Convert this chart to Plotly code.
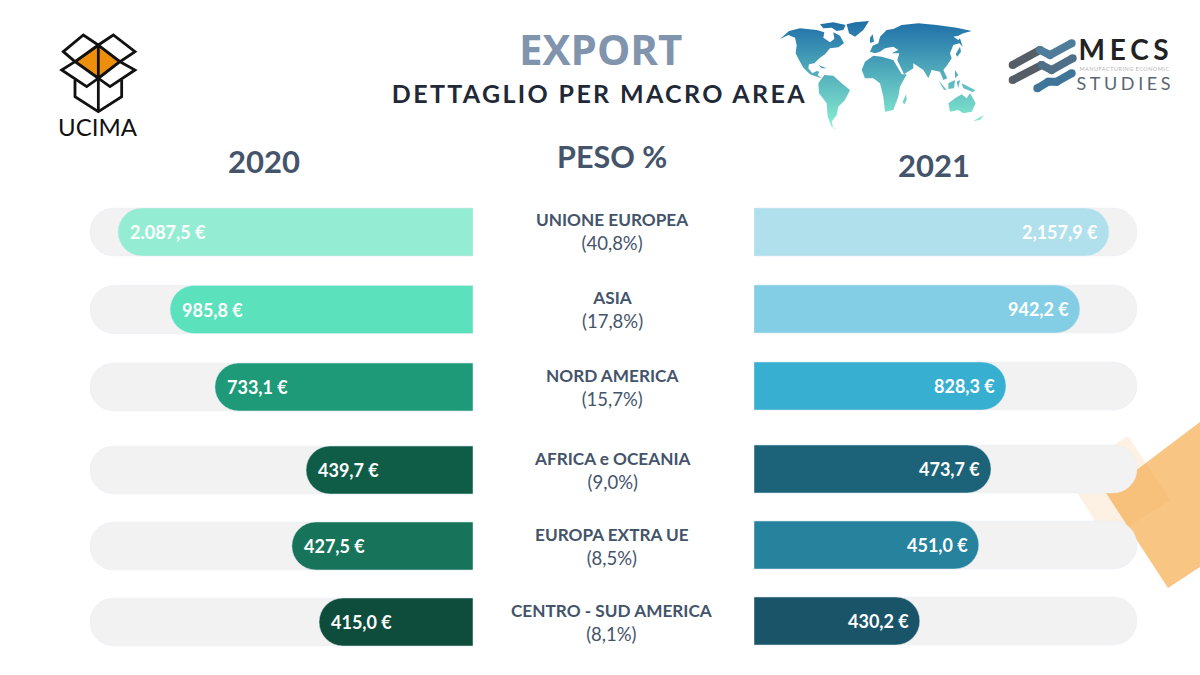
import plotly.graph_objects as go

rows_top = ["UNIONE EUROPEA", "ASIA", "NORD AMERICA"]
rows_bottom = ["AFRICA e OCEANIA", "EUROPA EXTRA UE", "CENTRO - SUD AMERICA"]

peso_top = ["(40,8%)", "(17,8%)", "(15,7%)"]
peso_bottom = ["(9,0%)", "(8,5%)", "(8,1%)"]

labels_2020_top = ["2.087,5 €", "985,8 €", "733,1 €"]
labels_2020_bottom = ["439,7 €", "427,5 €", "415,0 €"]
labels_2021_top = ["2,157,9 €", "942,2 €", "828,3 €"]
labels_2021_bottom = ["473,7 €", "451,0 €", "430,2 €"]

# bar lengths, % of the grey track (not proportional to the labels)
length_2020_top = [92.7, 79.1, 67.4]
length_2020_bottom = [43.6, 47.3, 40.2]
length_2021_top = [92.7, 85.1, 65.8]
length_2021_bottom = [61.9, 58.7, 43.3]
track = [100, 100, 100]

colors_2020_top = ["#94EDD3", "#5BE2BD", "#1F9A78"]
colors_2020_bottom = ["#0F5C47", "#17745A", "#0E4D3C"]
colors_2021_top = ["#B0E0EC", "#83CEE4", "#36AFD1"]
colors_2021_bottom = ["#1C6379", "#26829D", "#1A5468"]

W, H = 1200, 675
SLATE = "#44546A"
BAR_H = 48


def xdom(a, b):
    return [a / W, b / W]


def ydom(top, bottom):
    return [1 - bottom / H, 1 - top / H]


fig = go.Figure()

# page axes: one unit is one pixel, used for the logos and the decoration
fig.update_layout(
    xaxis=dict(domain=[0, 1], range=[0, W], visible=False, fixedrange=True),
    yaxis=dict(domain=[0, 1], range=[H, 0], visible=False, fixedrange=True),
)


# ---- world map, rough outline traced from two 3x crops
def zoomed(points, ox, oy):
    return [ox + p[0] / 3 for p in points], [oy + p[1] / 3 for p in points]


west = [
    [(15, 72), (42, 48), (75, 40), (125, 45), (148, 52), (145, 68), (165, 82), (178, 72), (175, 52), (195, 62),
     (207, 85), (190, 97), (165, 100), (150, 118), (135, 128), (118, 145), (102, 148), (100, 160), (112, 175),
     (125, 168), (133, 170), (128, 180), (140, 190), (125, 185), (105, 178), (85, 158), (72, 135), (62, 115),
     (65, 90), (60, 68), (40, 60)],
    [(215, 28), (240, 22), (282, 18), (265, 45), (240, 65), (222, 55)],
    [(135, 28), (175, 22), (212, 30), (205, 45), (185, 48), (170, 38), (145, 40)],
    [(130, 150), (155, 160), (140, 160)],
    [(130, 205), (148, 180), (175, 182), (200, 205), (225, 225), (210, 255), (190, 275), (185, 300), (170, 320),
     (175, 340), (185, 342), (170, 335), (158, 305), (155, 265), (132, 235)],
]
east = [
    [(30, 110), (38, 92), (55, 85), (60, 65), (80, 45), (100, 42), (125, 30), (175, 25), (230, 30), (290, 38),
     (335, 48), (310, 55), (295, 62), (280, 65), (295, 75), (300, 70), (308, 95), (298, 85), (280, 90), (270, 115),
     (275, 130), (262, 150), (250, 165), (262, 190), (250, 195), (240, 170), (215, 165), (205, 190), (190, 165),
     (160, 145), (160, 160), (132, 178), (112, 135), (118, 115), (95, 115), (115, 105), (100, 95), (75, 100),
     (60, 110), (45, 115)],
    [(5, 165), (15, 140), (40, 122), (65, 125), (100, 135), (125, 178), (140, 178), (120, 215), (115, 245),
     (100, 285), (75, 290), (70, 245), (60, 205), (40, 190), (15, 190)],
    [(128, 262), (138, 238), (140, 255), (133, 268)],
    [(235, 195), (260, 225), (252, 225)],
    [(265, 205), (285, 195), (282, 220), (265, 222)],
    [(290, 200), (300, 195), (295, 220)],
    [(305, 205), (345, 225), (340, 232), (310, 220)],
    [(285, 165), (295, 180), (285, 190)],
    [(287, 118), (300, 95), (303, 110), (292, 125)],
    [(265, 265), (285, 250), (305, 238), (320, 250), (330, 235), (347, 265), (335, 290), (310, 295), (295, 285),
     (270, 290)],
    [(340, 318), (372, 300), (360, 315)],
    [(30, 68), (38, 58), (42, 80), (30, 84)],
]
map_x, map_y = [], []
for parts, ox in ((west, 775), (east, 860)):
    for part in parts:
        px, py = zoomed(part + part[:1], ox, 15)
        map_x += px + [None]
        map_y += py + [None]
fig.add_trace(go.Scatter(
    x=map_x, y=map_y, mode="none", fill="toself", hoverinfo="skip", showlegend=False,
    fillgradient=dict(type="vertical", start=22, stop=125,
                      colorscale=[[0, "#1F6FA8"], [1, "#86EDD0"]]),
))

# ---- MECS logo strokes
mecs_lines = [
    ([(38, 105), (120, 60)], "#555E67"),
    ([(120, 60), (150, 75), (215, 40)], "#4F7C9B"),
    ([(38, 150), (125, 105)], "#555E67"),
    ([(125, 105), (155, 120), (218, 85)], "#4F6F88"),
    ([(112, 175), (145, 155), (170, 155), (215, 130)], "#3F7598"),
]
for pts, col in mecs_lines:
    lx, ly = zoomed(pts, 1000, 30)
    fig.add_trace(go.Scatter(
        x=lx, y=ly, mode="lines+markers", hoverinfo="skip", showlegend=False,
        line=dict(color=col, width=8), marker=dict(color=col, size=8),
    ))


# ---- shapes on the page axes
def poly(points, **kw):
    path = "M " + " L ".join(f"{x},{y}" for x, y in points) + " Z"
    fig.add_shape(type="path", path=path, xref="x", yref="y", layer="below", **kw)


poly([(1106, 493), (1200, 422), (1200, 567), (1168, 588)], fillcolor="#F8C583", line_width=0)
poly([(1128, 436), (1170, 500), (1107, 540), (1066, 475)], fillcolor="rgba(240,165,80,0.16)", line_width=0)


def ucima(points):
    return [(30 + x / 3, 20 + y / 3) for x, y in points]


stroke = dict(color="#111111", width=2.8)
poly(ucima([(135, 125), (205, 75), (270, 125), (205, 175)]), fillcolor="#EE8F0B", line=stroke)
poly(ucima([(100, 95), (160, 45), (205, 75), (135, 125)]), fillcolor="white", line=stroke)
poly(ucima([(205, 75), (250, 45), (315, 95), (270, 125)]), fillcolor="white", line=stroke)
poly(ucima([(135, 125), (95, 150), (170, 200), (205, 175)]), fillcolor="white", line=stroke)
poly(ucima([(270, 125), (315, 150), (240, 200), (205, 175)]), fillcolor="white", line=stroke)
for seg in ([(135, 180), (135, 230), (205, 275), (275, 230), (275, 180)], [(205, 75), (205, 275)]):
    pts = ucima(seg)
    fig.add_shape(type="path", path="M " + " L ".join(f"{x},{y}" for x, y in pts),
                  xref="x", yref="y", layer="below", line=stroke)

# ---- the bars: one subplot per side and per block of rows
# tracks sit on their own y axes (lower numbers draw first), otherwise only the longest bar gets round corners
blocks = [
    ("x2", "y2", "y6", rows_top, length_2020_top, colors_2020_top, labels_2020_top, 193.25, 425.75, 77.5),
    ("x2", "y3", "y7", rows_bottom, length_2020_bottom, colors_2020_bottom, labels_2020_bottom, 432, 660, 76),
    ("x3", "y4", "y8", rows_top, length_2021_top, colors_2021_top, labels_2021_top, 193.5, 424.5, 77),
    ("x3", "y5", "y9", rows_bottom, length_2021_bottom, colors_2021_bottom, labels_2021_bottom, 431, 659, 76),
]

fig.update_layout(
    xaxis2=dict(domain=xdom(90, 473), range=[100, 0], visible=False, fixedrange=True),
    xaxis3=dict(domain=xdom(754, 1137), range=[0, 100], visible=False, fixedrange=True),
)
for xa, ya_track, ya, rows, lengths, cols, labels, top, bottom, step in blocks:
    for name in (ya_track, ya):
        fig.update_layout({
            "yaxis" + name[1:]: dict(domain=ydom(top, bottom), type="category", categoryorder="array",
                                     categoryarray=rows, range=[2.5, -0.5], visible=False, fixedrange=True)
        })
    fig.add_trace(go.Bar(x=track, y=rows, orientation="h", xaxis=xa, yaxis=ya_track, width=BAR_H / step,
                         marker=dict(color="#F2F2F2", cornerradius=24), hoverinfo="skip", showlegend=False))
    fig.add_trace(go.Bar(x=lengths, y=rows, orientation="h", xaxis=xa, yaxis=ya, width=BAR_H / step,
                         marker=dict(color=cols, cornerradius=24), showlegend=False,
                         hovertext=labels, hoverinfo="text+y"))
    left_side = xa == "x2"
    for row, length, label in zip(rows, lengths, labels):
        fig.add_annotation(x=length, y=row, xref=xa, yref=ya, text=f"<b>{label}</b>", showarrow=False,
                           xanchor="left" if left_side else "right", xshift=10 if left_side else -9,
                           font=dict(family="Lato", size=18, color="white"))

# ---- centre column
for ya, rows, pesi in (("y6", rows_top, peso_top), ("y7", rows_bottom, peso_bottom)):
    for row, peso in zip(rows, pesi):
        fig.add_annotation(x=612, y=row, xref="x", yref=ya, showarrow=False, align="center",
                           text=f'<span style="font-size:17.2px"><b>{row}</b></span><br>{peso}',
                           font=dict(family="Lato", size=18.5, color=SLATE))


# ---- titles and logo text
def page_text(x, y, text, family="Lato", size=18, color=SLATE):
    fig.add_annotation(x=x, y=y, xref="x", yref="y", text=text, showarrow=False,
                       font=dict(family=family, size=size, color=color))


page_text(600, 48, "<b>EXPORT</b>", "Open Sans", 42, "#8094AE")
page_text(599, 93, "<b>DETTAGLIO PER MACRO AREA</b>", "Lato", 25, "#1F2937")
page_text(264, 161, "<b>2020</b>", "Lato", 31)
page_text(612, 156, "<b>PESO %</b>", "Lato", 30.5)
page_text(934, 165, "<b>2021</b>", "Lato", 31)
page_text(98, 126, "UCIMA", "Lato", 24, "#111111")
page_text(1126, 48.5, "<b>MECS</b>", "Lato", 28, "#222222")
page_text(1124, 68.5, "MANUFACTURING ECONOMIC", "Lato", 5.5, "#B5B5B5")
page_text(1125, 83, "STUDIES", "Lato", 18, "#5A6672")

fig.update_layout(
    width=W, height=H, margin=dict(l=0, r=0, t=0, b=0),
    paper_bgcolor="white", plot_bgcolor="rgba(0,0,0,0)",
    barmode="overlay", showlegend=False, hovermode="closest",
)

# page flush with the window, and the tracked-out headings
post = """
document.body.style.margin = '0';
var spaced = {'DETTAGLIO': '2.35px', 'MECS': '4.7px', 'STUDIES': '3.6px', 'MANUFACTURING': '0.5px'};
document.querySelectorAll('.annotation-text').forEach(function (el) {
    Object.keys(spaced).forEach(function (k) {
        if (el.textContent.indexOf(k) === 0) { el.style.letterSpacing = spaced[k]; }
    });
});
"""
fig.write_html("out.html", post_script=post, config=dict(displayModeBar=False))
